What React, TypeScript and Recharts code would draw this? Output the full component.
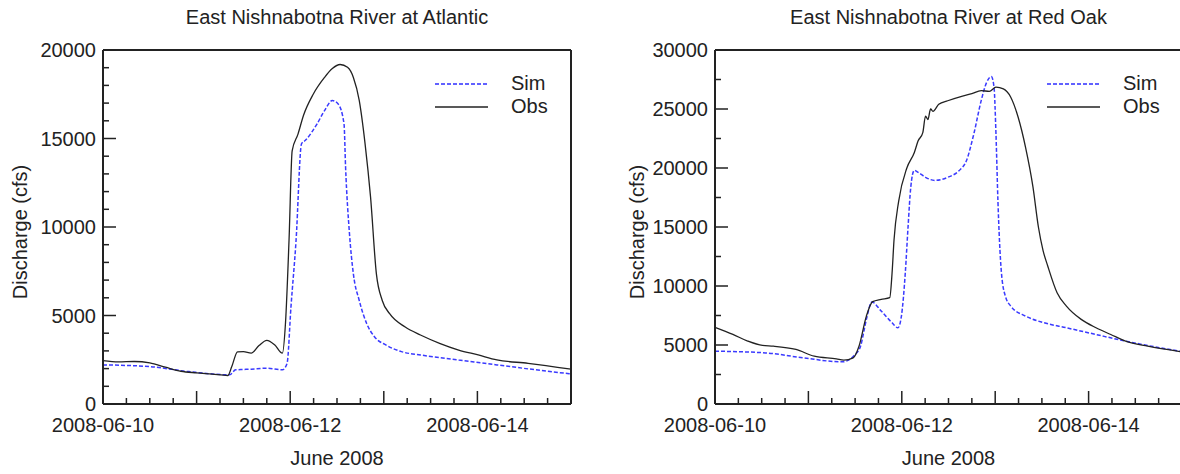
import React from 'react';
import { LineChart, Line, XAxis, YAxis, Legend } from 'recharts';

const FONT = '"Liberation Sans", Arial, Helvetica, sans-serif';
const AXIS = '#222';
const SIM = '#3a3aff';
const OBS = '#222';

// hours after 2008-06-10 00:00
const hourTicks = [0, 6, 12, 18, 24, 30, 36, 42, 48, 54, 60, 66, 72, 78, 84, 90, 96, 102, 108, 114, 120];
const dateLabels: Record<number, string> = { 0: '2008-06-10', 48: '2008-06-12', 96: '2008-06-14' };
const legendOrder = ['Sim', 'Obs'];

const atlYTicks = [0, 1000, 2000, 3000, 4000, 5000, 6000, 7000, 8000, 9000, 10000, 11000, 12000, 13000, 14000, 15000, 16000, 17000, 18000, 19000, 20000];
const redYTicks = [0, 2500, 5000, 7500, 10000, 12500, 15000, 17500, 20000, 22500, 25000, 27500, 30000];

// East Nishnabotna River at Atlantic
const atlObsHours = [0, 4, 8, 12, 16, 20, 24, 28, 32, 33, 34.5, 36, 38, 40, 42, 44, 46, 46.8, 47.7, 48.5, 50, 51.4, 53.9, 56.8, 58.8, 60.8, 62.7, 64.2, 65.7, 67.2, 68.6, 70.1, 71.6, 73.5, 77.5, 81.4, 86.3, 91.2, 96.2, 101, 109, 120];
const atlObs = [2450, 2380, 2400, 2320, 2080, 1850, 1760, 1690, 1610, 2100, 2950, 2960, 2870, 3300, 3600, 3350, 2870, 4600, 9250, 14300, 15250, 16300, 17500, 18450, 18950, 19180, 19020, 18450, 17150, 14700, 11700, 7350, 5850, 5100, 4350, 3900, 3430, 3050, 2770, 2490, 2300, 1970];
const atlSimHours = [0, 12, 22, 32.5, 34, 36, 38, 42, 46, 47.2, 48.2, 49.5, 50.9, 51.9, 54.9, 56.8, 58.8, 60.3, 61.8, 62.2, 63.2, 64.2, 65.7, 67.6, 69.6, 72.6, 76.5, 81.4, 91.2, 101, 111, 120];
const atlSim = [2210, 2110, 1830, 1650, 1930, 1950, 1970, 2020, 1930, 2300, 5500, 9230, 14700, 14900, 15830, 16580, 17140, 16950, 15830, 13380, 9620, 7350, 5850, 4550, 3800, 3330, 2960, 2770, 2490, 2210, 1930, 1700];

// East Nishnabotna River at Red Oak
const redObsHours = [0, 4.6, 8.4, 12.2, 15, 20.8, 25.5, 31.2, 33.1, 35.5, 37, 38.9, 40.5, 42.7, 44.9, 45.5, 46, 47.2, 49.3, 51.2, 52.2, 53.4, 54.1, 54.7, 55.4, 56, 57.5, 59.8, 63.6, 66, 68.4, 70.5, 72.2, 74.1, 76, 77.9, 79.8, 81.7, 83.1, 84.3, 85.5, 87.9, 90.3, 94.1, 97.9, 101.7, 105.5, 111.2, 120];
const redObs = [6500, 5900, 5330, 4960, 4900, 4620, 4050, 3820, 3710, 3910, 4900, 7450, 8670, 8870, 9010, 11100, 13900, 17200, 20000, 21300, 22300, 23000, 24400, 24100, 25000, 24800, 25400, 25700, 26100, 26300, 26550, 26500, 26850, 26700, 26000, 24300, 21750, 18400, 15000, 13000, 11700, 9430, 8300, 7170, 6460, 5890, 5330, 4900, 4420];
const redSimHours = [0, 13, 22.7, 32.7, 36, 37.4, 38.9, 40.3, 42.7, 45.5, 47, 47.9, 48.9, 49.6, 50.3, 51.2, 52.2, 54.1, 56.5, 59.8, 62.7, 64.6, 66.5, 68.4, 69.8, 71, 71.7, 72.2, 72.7, 73.1, 73.6, 74.6, 76, 79.8, 84.6, 90.3, 97.9, 105.5, 113.1, 120];
const redSim = [4475, 4330, 3910, 3570, 4190, 4900, 7170, 8640, 7880, 6880, 6460, 7450, 11130, 14970, 18360, 19800, 19630, 19210, 18950, 19210, 19770, 20620, 22880, 25710, 27260, 27750, 26840, 22880, 17230, 13840, 11130, 9150, 8300, 7450, 6880, 6460, 5890, 5330, 4840, 4450];

const toPts = (hs: number[], vs: number[]) => hs.map((h, i) => ({ h, v: vs[i] }));

const MAJOR = 13;
const MINOR = 6;

const bottomTick = (p: any) => {
  const v = p.payload.value;
  const len = v % 24 === 0 ? MAJOR : MINOR;
  return (
    <g>
      <line x1={p.x} y1={p.y} x2={p.x} y2={p.y - len} stroke={AXIS} strokeWidth={1.5} />
      {dateLabels[v] && (
        <text x={p.x} y={p.y + 28} textAnchor="middle" fontSize={20} fill="#222" fontFamily={FONT}>
          {dateLabels[v]}
        </text>
      )}
    </g>
  );
};

const topTick = (p: any) => {
  const len = p.payload.value % 24 === 0 ? MAJOR : MINOR;
  return <line x1={p.x} y1={p.y} x2={p.x} y2={p.y + len} stroke={AXIS} strokeWidth={1.5} />;
};

const leftTick = (p: any) => {
  const v = p.payload.value;
  const major = v % 5000 === 0;
  return (
    <g>
      <line x1={p.x} y1={p.y} x2={p.x + (major ? MAJOR : MINOR)} y2={p.y} stroke={AXIS} strokeWidth={1.5} />
      {major && (
        <text x={p.x - 7} y={p.y + 7} textAnchor="end" fontSize={20} fill="#222" fontFamily={FONT}>
          {v}
        </text>
      )}
    </g>
  );
};

const rightTick = (p: any) => {
  const major = p.payload.value % 5000 === 0;
  return <line x1={p.x} y1={p.y} x2={p.x - (major ? MAJOR : MINOR)} y2={p.y} stroke={AXIS} strokeWidth={1.5} />;
};

const legendContent = (props: any) => {
  const items = [...(props.payload || [])].sort(
    (a: any, b: any) => legendOrder.indexOf(a.value) - legendOrder.indexOf(b.value),
  );
  return (
    <div style={{ fontFamily: FONT, fontSize: 20, color: '#222' }}>
      {items.map((e: any) => (
        <div key={e.value} style={{ display: 'flex', alignItems: 'center', height: 23 }}>
          <svg width={53} height={4}>
            <line x1={0} y1={2} x2={53} y2={2} stroke={e.color} strokeWidth={2}
              strokeDasharray={e.value === 'Sim' ? '4 2' : undefined} opacity={e.value === 'Sim' ? 0.8 : 0.75} />
          </svg>
          <span style={{ marginLeft: 23, lineHeight: '23px' }}>{e.value}</span>
        </div>
      ))}
    </div>
  );
};

type PanelProps = {
  left: number;
  plotLeft: number;
  plotWidth: number;
  title: string;
  yMax: number;
  yTicks: number[];
  sim: { h: number; v: number }[];
  obs: { h: number; v: number }[];
  yLabelX: number;
};

function Panel({ left, plotLeft, plotWidth, title, yMax, yTicks, sim, obs, yLabelX }: PanelProps) {
  const W = 600;
  const H = 474;
  const cx = plotLeft + plotWidth / 2;
  const text: React.CSSProperties = {
    position: 'absolute', fontFamily: FONT, fontSize: 20, lineHeight: '20px', color: '#222', whiteSpace: 'nowrap',
  };
  return (
    <div style={{ position: 'absolute', left, top: 0, width: W, height: H }}>
      <div style={{ ...text, top: 7, left: cx, transform: 'translateX(-50%)' }}>{title}</div>
      <div style={{ ...text, top: 448, left: cx, transform: 'translateX(-50%)' }}>June 2008</div>
      <div style={{ ...text, top: 232, left: yLabelX, transform: 'translate(-50%, -50%) rotate(-90deg)' }}>
        Discharge (cfs)
      </div>
      <LineChart width={W} height={H} margin={{ top: 49, right: W - plotLeft - plotWidth - 1, bottom: 10, left: 0 }}>
        <XAxis xAxisId="b" dataKey="h" type="number" domain={[0, 120]} ticks={hourTicks} interval={0}
          height={60} tickSize={0} tickMargin={0} tickLine={false} tick={bottomTick}
          axisLine={{ stroke: AXIS, strokeWidth: 2 }} />
        <XAxis xAxisId="t" orientation="top" dataKey="h" type="number" domain={[0, 120]} ticks={hourTicks}
          interval={0} height={1} tickSize={0} tickMargin={0} tickLine={false} tick={topTick}
          axisLine={{ stroke: AXIS, strokeWidth: 2 }} />
        <YAxis yAxisId="l" type="number" domain={[0, yMax]} ticks={yTicks} interval={0} width={plotLeft}
          tickSize={0} tickMargin={0} tickLine={false} tick={leftTick} axisLine={{ stroke: AXIS, strokeWidth: 2 }} />
        <YAxis yAxisId="r" orientation="right" type="number" domain={[0, yMax]} ticks={yTicks} interval={0}
          width={1} tickSize={0} tickMargin={0} tickLine={false} tick={rightTick}
          axisLine={{ stroke: AXIS, strokeWidth: 2 }} />
        <Legend layout="vertical" align="center" verticalAlign="middle" content={legendContent}
          wrapperStyle={{ left: plotLeft + 332, top: 72, width: 130 }} />
        <Line xAxisId="b" yAxisId="l" data={sim} dataKey="v" name="Sim" type="monotone" dot={false}
          stroke={SIM} strokeWidth={1.5} strokeDasharray="4 2" isAnimationActive={false} />
        <Line xAxisId="b" yAxisId="l" data={obs} dataKey="v" name="Obs" type="monotone" dot={false}
          stroke={OBS} strokeWidth={1.3} isAnimationActive={false} />
      </LineChart>
    </div>
  );
}

export default function App() {
  return (
    <div style={{ position: 'absolute', left: 0, top: 0, width: 1180, height: 474, overflow: 'hidden', background: '#fff' }}>
      <Panel left={0} plotLeft={103} plotWidth={468} title="East Nishnabotna River at Atlantic" yMax={20000}
        yTicks={atlYTicks} sim={toPts(atlSimHours, atlSim)} obs={toPts(atlObsHours, atlObs)} yLabelX={20} />
      <Panel left={600} plotLeft={115} plotWidth={467} title="East Nishnabotna River at Red Oak" yMax={30000}
        yTicks={redYTicks} sim={toPts(redSimHours, redSim)} obs={toPts(redObsHours, redObs)} yLabelX={37} />
    </div>
  );
}
